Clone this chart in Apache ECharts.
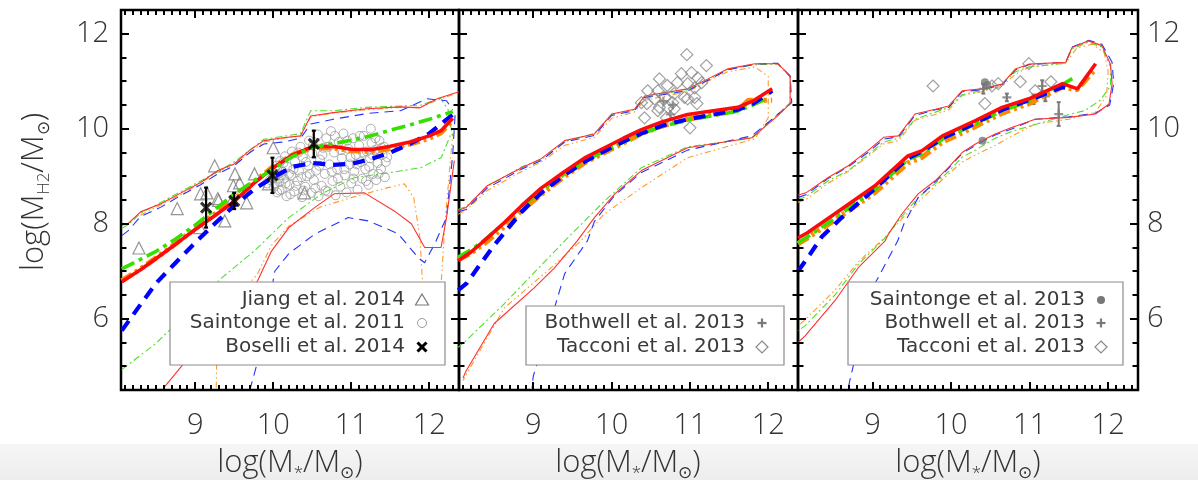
<!DOCTYPE html>
<html>
<head>
<meta charset="utf-8">
<script src="https://cdn.jsdelivr.net/npm/echarts@6/dist/echarts.min.js"></script>
<style>
  html, body { margin: 0; padding: 0; background: #ffffff; }
  #chart { width: 1198px; height: 480px; }
</style>
</head>
<body>
<div id="chart"></div>
<script>
// ---- axis ranges and tick labels ----
const X_MIN = 8.05, X_MAX = 12.38, Y_MIN = 4.5, Y_MAX = 12.5;
const xTickLabels = [9, 10, 11, 12];
const yTickLabels = [6, 8, 10, 12];

// ---- panel 1 : model medians (thick) ----
const p1RedMed = [[8.06,6.78],[8.3,7.03],[8.5,7.27],[8.75,7.57],[9.0,7.88],[9.25,8.17],[9.5,8.47],[9.75,8.85],[10.0,9.18],[10.25,9.45],[10.5,9.62],[10.75,9.63],[11.0,9.57],[11.25,9.56],[11.5,9.63],[11.75,9.72],[12.0,9.85],[12.15,9.96],[12.3,10.22]];
const p1OrangeMed = [[8.06,6.8],[8.3,7.05],[8.5,7.28],[8.75,7.58],[9.0,7.9],[9.25,8.2],[9.5,8.5],[9.75,8.88],[10.0,9.2],[10.25,9.45],[10.5,9.6],[10.75,9.6],[11.0,9.54],[11.25,9.52],[11.5,9.58],[11.75,9.68],[12.0,9.8],[12.15,9.92],[12.3,10.18]];
const p1GreenMed = [[8.06,7.05],[8.3,7.25],[8.5,7.42],[8.75,7.68],[9.0,7.97],[9.25,8.3],[9.5,8.62],[9.75,8.9],[10.0,9.15],[10.25,9.42],[10.5,9.6],[10.75,9.68],[11.0,9.76],[11.25,9.85],[11.5,9.97],[11.75,10.08],[12.0,10.2],[12.3,10.36]];
const p1BlueMed = [[8.06,5.75],[8.3,6.3],[8.5,6.75],[8.75,7.18],[9.0,7.6],[9.25,8.0],[9.5,8.38],[9.75,8.72],[10.0,8.98],[10.25,9.2],[10.5,9.28],[10.75,9.24],[11.0,9.26],[11.25,9.36],[11.5,9.5],[11.75,9.68],[12.0,9.9],[12.3,10.3]];

// ---- panel 1 : model envelopes (thin) ----
const p1RedHi = [[8.06,7.97],[8.14,8.0],[8.3,8.25],[8.56,8.42],[8.82,8.65],[9.07,8.87],[9.29,9.12],[9.5,9.26],[9.7,9.55],[9.88,9.75],[10.13,9.81],[10.35,9.85],[10.48,10.27],[10.77,10.34],[11.2,10.42],[11.63,10.46],[11.88,10.44],[12.1,10.63],[12.38,10.78]];
const p1RedLo = [[8.6,4.55],[9.0,5.35],[9.24,5.75],[9.5,6.2],[9.8,6.8],[9.98,7.43],[10.2,7.92],[10.53,8.34],[10.78,8.63],[11.17,8.65],[11.55,8.27],[11.77,8.0],[11.94,7.5],[12.15,7.5],[12.22,8.13],[12.32,9.33]];
const p1BlueHi = [[8.06,7.75],[8.14,7.85],[8.3,8.15],[8.56,8.35],[8.82,8.6],[9.07,8.82],[9.29,9.05],[9.5,9.22],[9.7,9.5],[9.88,9.68],[10.13,9.72],[10.35,9.8],[10.48,10.1],[10.77,10.2],[11.2,10.32],[11.63,10.38],[11.97,10.63],[12.22,10.59],[12.3,10.4]];
const p1BlueLo = [[9.7,4.5],[9.85,5.39],[10.02,7.0],[10.2,7.37],[10.53,7.78],[10.96,8.13],[11.22,8.06],[11.6,7.79],[11.86,7.28],[11.94,7.18],[12.07,7.58],[12.22,8.13],[12.3,9.47],[12.33,10.3]];
const p1GreenHi = [[8.06,7.9],[8.14,7.98],[8.3,8.22],[8.56,8.45],[8.82,8.68],[9.07,8.9],[9.29,9.1],[9.5,9.3],[9.7,9.55],[9.88,9.78],[10.13,9.84],[10.35,9.9],[10.48,10.38],[10.77,10.38],[11.2,10.45],[11.63,10.48],[11.9,10.5],[12.14,10.65],[12.24,10.4],[12.3,9.8]];
const p1GreenLo = [[8.06,4.93],[8.49,5.47],[8.92,6.16],[9.34,6.86],[9.76,7.43],[10.2,8.13],[10.62,8.63],[11.04,8.97],[11.47,9.07],[11.89,9.18],[12.15,9.39],[12.28,9.9]];
const p1OrangeHi = [[8.3,8.18],[8.56,8.4],[8.82,8.62],[9.07,8.85],[9.29,9.1],[9.5,9.25],[9.7,9.5],[9.88,9.72],[10.13,9.8],[10.35,9.84],[10.48,10.25],[10.77,10.33],[11.2,10.4],[11.63,10.45],[11.88,10.45],[12.1,10.6],[12.3,10.72]];
const p1OrangeLo = [[9.27,4.55],[9.28,5.6],[9.45,6.2],[9.6,6.55],[9.8,6.95],[9.98,7.55],[10.2,7.95],[10.6,8.35],[11.0,8.55],[11.47,8.76],[11.68,8.84],[11.8,8.55],[11.88,7.7],[11.92,6.55],[12.0,6.45],[12.15,6.7],[12.2,8.0],[12.3,9.9]];

// ---- panel 1 : observations ----
const jiang14 = [[8.28,7.49],[8.77,8.32],[9.15,8.65],[9.25,9.22],[9.51,9.05],[9.57,8.86],[9.66,8.44],[9.38,8.06],[9.94,8.84],[10.4,8.65],[9.06,7.92],[9.3,8.49],[9.76,9.05],[9.47,8.49],[10.0,9.6],[9.07,8.63],[9.29,8.53],[9.49,8.8]];
const saintonge11 = [[9.96,8.92],[9.98,9.12],[10.01,8.78],[10.02,8.98],[10.04,9.22],[10.05,8.66],[10.06,9.05],[10.08,8.88],[10.09,9.32],[10.11,8.72],[10.12,9.1],[10.14,8.95],[10.15,9.42],[10.17,8.58],[10.18,9.2],[10.21,8.82],[10.23,9.02],[10.24,9.52],[10.27,8.68],[10.28,9.3],[10.31,8.9],[10.33,9.12],[10.35,9.62],[10.37,8.56],[10.38,9.4],[10.41,8.78],[10.43,9.0],[10.45,9.22],[10.46,9.75],[10.49,8.65],[10.5,9.48],[10.52,8.92],[10.55,9.12],[10.57,9.88],[10.58,8.58],[10.6,9.35],[10.62,8.8],[10.64,9.6],[10.66,9.05],[10.68,9.8],[10.7,8.68],[10.72,9.25],[10.74,9.95],[10.76,8.9],[10.78,9.5],[10.8,8.6],[10.82,9.15],[10.84,9.72],[10.86,8.78],[10.88,9.38],[10.9,9.9],[10.92,9.02],[10.94,8.66],[10.96,9.58],[10.98,9.25],[11.0,8.85],[11.02,9.8],[11.04,9.1],[11.06,9.45],[11.08,8.72],[11.1,9.65],[11.12,9.3],[11.14,8.95],[11.16,9.85],[11.18,9.15],[11.2,9.52],[11.22,8.82],[11.24,9.38],[11.26,9.7],[11.28,9.05],[11.3,9.55],[11.32,8.92],[11.34,9.28],[11.36,9.75],[11.38,9.15],[11.4,9.45],[11.42,9.62],[11.44,9.3],[11.25,10.0],[10.0,9.0],[10.03,9.05],[10.07,8.95],[10.1,9.02],[9.92,8.85],
  [10.02,8.85],[10.05,9.15],[10.08,8.7],[10.13,9.28],[10.16,8.85],[10.2,9.05],[10.22,8.62],[10.26,9.15],[10.29,8.8],[10.32,9.5],[10.36,8.98],[10.39,8.7],[10.42,9.3],[10.47,9.05],[10.51,9.65],[10.54,8.75],[10.59,9.22],[10.63,9.45],[10.67,8.7],[10.71,9.62],[10.75,9.1],[10.79,9.85],[10.83,8.95],[10.87,9.55],[10.91,9.15],[10.95,9.75],[10.99,9.4],[11.03,8.95],[11.07,9.25],[11.11,9.85],[11.15,9.5],[11.19,8.9],[11.23,9.2],[11.27,9.45],[11.31,9.8],[11.35,9.05],[11.39,9.6],[11.43,8.98],[11.46,9.4]];
const boselli14 = [[9.14,8.34],[9.5,8.48],[9.99,9.02],[10.52,9.68]];
const boselli14Err = [0.42, 0.17, 0.37, 0.28];

// ---- panel 2 : model medians ----
const p2RedMed = [[8.04,7.22],[8.2,7.4],[8.37,7.64],[8.6,7.98],[8.85,8.38],[9.1,8.75],[9.4,9.1],[9.65,9.38],[9.91,9.6],[10.15,9.8],[10.38,9.98],[10.65,10.15],[10.97,10.3],[11.3,10.38],[11.61,10.45],[11.8,10.58],[12.05,10.84]];
const p2OrangeMed = [[8.04,7.25],[8.2,7.38],[8.37,7.58],[8.6,7.9],[8.85,8.28],[9.1,8.62],[9.4,9.0],[9.65,9.28],[9.91,9.5],[10.15,9.7],[10.38,9.9],[10.65,10.06],[10.97,10.2],[11.3,10.3],[11.61,10.38],[11.75,10.6],[12.05,10.6]];
const p2GreenMed = [[8.04,7.3],[8.2,7.45],[8.37,7.65],[8.6,7.97],[8.85,8.35],[9.1,8.7],[9.4,9.05],[9.65,9.32],[9.91,9.53],[10.15,9.72],[10.38,9.9],[10.65,10.05],[10.97,10.18],[11.3,10.28],[11.61,10.37],[11.8,10.5],[12.0,10.65]];
const p2BlueMed = [[8.04,6.6],[8.15,6.75],[8.3,7.1],[8.5,7.55],[8.7,7.95],[8.85,8.25],[9.1,8.65],[9.4,9.03],[9.65,9.3],[9.91,9.53],[10.15,9.73],[10.38,9.9],[10.65,10.07],[10.97,10.2],[11.3,10.3],[11.61,10.4],[11.8,10.52],[12.05,10.8]];

// ---- panel 2 : model envelopes (upper edge, round the tip, lower edge) ----
const p2RedEnv = [[8.04,8.28],[8.14,8.34],[8.41,8.8],[8.85,9.18],[9.1,9.37],[9.4,9.75],[9.78,9.89],[10.0,10.31],[10.29,10.41],[10.42,10.69],[10.97,10.84],[11.23,11.05],[11.48,11.26],[11.83,11.37],[12.12,11.37],[12.28,11.12],[12.28,10.53],[12.12,10.27],[11.79,9.81],[10.97,9.6],[10.38,9.12],[10.04,8.63],[9.78,8.13],[9.56,7.64],[9.27,7.07],[9.01,6.65],[8.5,5.9],[8.14,4.9],[8.1,4.75]];
const p2BlueEnv = [[8.04,8.25],[8.14,8.3],[8.41,8.75],[8.85,9.15],[9.1,9.33],[9.4,9.72],[9.78,9.86],[10.0,10.28],[10.29,10.38],[10.42,10.66],[10.97,10.8],[11.23,11.02],[11.48,11.24],[11.83,11.36],[12.12,11.38],[12.28,11.1],[12.3,10.55],[12.12,10.3],[11.79,9.85],[10.97,9.55],[10.38,9.08],[10.04,8.6],[9.78,8.05],[9.69,7.64],[9.4,6.95],[9.27,6.23],[9.0,4.8],[8.98,4.55]];
const p2GreenEnv = [[8.04,8.3],[8.14,8.36],[8.41,8.78],[8.85,9.2],[9.1,9.35],[9.4,9.73],[9.78,9.9],[10.0,10.3],[10.29,10.4],[10.42,10.66],[10.97,10.82],[11.23,11.03],[11.48,11.25],[11.83,11.35],[12.12,11.36],[12.28,11.1],[12.28,10.55],[12.12,10.3],[11.79,9.8],[10.97,9.62],[10.38,9.18],[9.91,8.48],[9.4,7.64],[8.63,6.32],[8.14,5.54],[8.04,5.4]];
const p2OrangeEnv = [[8.04,8.2],[8.14,8.28],[8.41,8.7],[8.85,9.1],[9.1,9.3],[9.4,9.65],[9.78,9.82],[10.0,10.22],[10.29,10.35],[10.42,10.6],[10.97,10.78],[11.23,11.0],[11.48,11.2],[11.83,11.3],[12.0,11.1],[12.0,10.23],[11.83,9.79],[10.97,9.39],[10.38,8.76],[9.9,8.2],[9.61,7.64],[9.14,6.95],[8.63,6.23],[8.14,4.82],[8.1,4.7]];

// ---- panel 2 : observations ----
const tacconiP2 = [[10.96,11.56],[11.21,11.33],[10.61,11.05],[10.89,11.16],[11.02,11.18],[10.71,10.91],[10.46,10.8],[10.59,10.8],[10.84,10.97],[10.97,10.95],[11.1,11.07],[11.15,10.97],[11.06,10.86],[10.55,10.63],[10.68,10.66],[10.8,10.74],[10.93,10.66],[11.06,10.66],[10.38,10.55],[10.45,10.53],[10.61,10.45],[10.78,10.55],[10.97,10.63],[11.09,10.53],[10.59,10.38],[10.72,10.45],[10.42,10.23],[10.7,10.23],[11.0,10.02],[10.8,10.42]];
const bothwellP2 = [[10.66,10.58],[10.78,10.5],[10.75,10.3]];

// ---- panel 3 : model medians ----
const p3RedMed = [[8.05,7.7],[8.17,7.81],[8.52,8.21],[9.03,8.8],[9.45,9.43],[9.63,9.54],[9.89,9.85],[10.31,10.17],[10.65,10.45],[10.99,10.63],[11.42,10.95],[11.61,10.84],[11.84,11.37]];
const p3OrangeMed = [[8.05,7.58],[8.17,7.7],[8.52,8.08],[9.03,8.66],[9.45,9.28],[9.63,9.4],[9.89,9.72],[10.31,10.05],[10.65,10.33],[10.99,10.53],[11.42,10.88],[11.6,10.82],[11.84,11.26]];
const p3GreenMed = [[8.05,7.6],[8.17,7.72],[8.52,8.12],[9.03,8.72],[9.45,9.35],[9.63,9.47],[9.89,9.78],[10.31,10.1],[10.65,10.38],[10.99,10.58],[11.3,10.82],[11.56,11.07]];
const p3BlueMed = [[8.05,7.0],[8.2,7.35],[8.35,7.72],[8.6,8.12],[9.03,8.74],[9.45,9.38],[9.63,9.52],[9.89,9.8],[10.31,10.12],[10.65,10.4],[10.99,10.6],[11.42,10.88],[11.55,10.82]];

// ---- panel 3 : model envelopes ----
const p3RedEnv = [[8.05,8.6],[8.16,8.66],[8.43,8.97],[8.69,9.22],[8.94,9.54],[9.14,9.82],[9.33,9.85],[9.54,10.31],[9.8,10.41],[9.97,10.48],[10.14,10.8],[10.39,10.84],[10.65,10.94],[10.82,11.26],[10.99,11.36],[11.46,11.4],[11.54,11.71],[11.75,11.85],[11.92,11.75],[12.03,11.36],[12.05,10.94],[12.01,10.52],[11.84,10.31],[11.5,10.24],[11.07,10.2],[10.78,10.03],[10.56,9.89],[10.31,9.68],[10.14,9.5],[9.97,9.19],[9.8,8.91],[9.58,8.63],[9.37,8.2],[9.2,7.78],[9.16,7.64],[8.82,7.08],[8.52,6.38],[8.14,5.64],[8.05,5.5]];
const p3BlueEnv = [[8.05,8.55],[8.16,8.62],[8.43,8.95],[8.69,9.2],[8.94,9.5],[9.14,9.78],[9.33,9.83],[9.54,10.28],[9.8,10.4],[9.97,10.45],[10.14,10.78],[10.39,10.82],[10.65,10.93],[10.82,11.24],[10.99,11.35],[11.46,11.4],[11.54,11.72],[11.75,11.86],[11.92,11.78],[12.05,11.4],[12.07,10.95],[12.02,10.5],[11.84,10.33],[11.5,10.25],[11.07,10.2],[10.78,10.0],[10.56,9.87],[10.31,9.65],[10.14,9.48],[9.97,9.17],[9.8,8.88],[9.58,8.55],[9.4,8.0],[9.32,7.64],[9.03,6.74],[8.86,5.75],[8.71,4.7],[8.69,4.55]];
const p3GreenEnv = [[8.05,8.5],[8.16,8.58],[8.43,8.9],[8.69,9.12],[8.94,9.45],[9.14,9.72],[9.33,9.8],[9.54,10.2],[9.8,10.35],[9.97,10.45],[10.14,10.72],[10.39,10.8],[10.65,10.95],[10.82,11.2],[10.99,11.3],[11.46,11.38],[11.54,11.68],[11.75,11.82],[11.92,11.72],[12.03,11.3],[12.03,10.9],[11.9,10.6],[11.7,10.38],[11.5,10.3],[11.2,10.15],[10.78,9.95],[10.56,9.8],[10.31,9.55],[10.14,9.4],[9.97,9.1],[9.8,8.85],[9.58,8.55],[9.37,8.15],[9.16,7.7],[8.82,7.15],[8.52,6.5],[8.14,5.85],[8.05,5.75]];
const p3OrangeEnv = [[8.05,8.45],[8.16,8.52],[8.43,8.85],[8.69,9.1],[8.94,9.42],[9.14,9.68],[9.33,9.75],[9.54,10.18],[9.8,10.3],[9.97,10.4],[10.14,10.7],[10.39,10.78],[10.65,10.9],[10.82,11.15],[10.99,11.3],[11.46,11.38],[11.6,11.7],[11.8,11.78],[11.95,11.6],[12.0,11.2],[11.98,10.7],[11.84,10.35],[11.5,10.2],[11.07,10.1],[10.78,9.85],[10.56,9.65],[10.31,9.45],[10.14,9.3],[9.97,9.05],[9.8,8.8],[9.58,8.45],[9.37,8.1],[9.16,7.72],[8.82,7.2],[8.52,6.6],[8.14,5.98],[8.05,5.85]];

// ---- panel 3 : observations ----
const saintonge13 = [[10.43,10.98],[10.46,10.92],[10.4,9.75]];
const bothwellP3 = [[10.41,10.84],[10.71,10.66],[11.05,10.62],[11.16,10.9],[11.2,10.68],[11.37,10.31]];
const bothwellP3Err = [0.1, 0.08, 0.1, 0.12, 0.1, 0.25];
const tacconiP3 = [[9.77,10.9],[10.43,10.53],[10.6,10.95],[10.88,10.99],[10.99,11.37],[11.07,10.8],[11.27,10.99],[10.52,10.9]];

// ---- styling ----
const FONT = '"Open Sans", "DejaVu Sans", sans-serif';
const LEGEND_FONT = '"DejaVu Sans", sans-serif';
const TXT = '#333333';
const PANELS = [
  { left: 121, top: 10, width: 338, height: 380 },
  { left: 459, top: 10, width: 339, height: 380 },
  { left: 798, top: 10, width: 340, height: 380 }
];
const GRIDS = PANELS.map(p => Object.assign({ show: true, borderColor: '#000000', borderWidth: 2.5, backgroundColor: 'transparent' }, p));
const LS = {
  redThick:    { color: '#ff0a0a', width: 3.6, type: 'solid' },
  orangeThick: { color: '#ff8a00', width: 5.2, type: [12, 4, 3, 4, 3, 4] },
  greenThick:  { color: '#35e000', width: 3.6, type: [14, 5, 4, 5] },
  blueThick:   { color: '#0000ff', width: 4.2, type: [12, 8] },
  redThin:     { color: '#ff3030', width: 1.1, type: 'solid' },
  orangeThin:  { color: '#ff9a2a', width: 1.1, type: [6, 3, 1.5, 3, 1.5, 3] },
  greenThin:   { color: '#4fe02a', width: 1.1, type: [7, 3, 2, 3] },
  blueThin:    { color: '#2233ff', width: 1.1, type: [9, 6] }
};

// minor tick positions (every 0.1 in mass, every 0.5 in gas mass)
const minorX = [];
for (let v = 81; v <= 123; v++) if (v % 10 !== 0) minorX.push(v / 10);
const minorY = [];
for (let v = 10; v <= 24; v++) if (v % 4 !== 0) minorY.push(v / 2);

const labelStyle = { color: TXT, fontFamily: FONT, fontSize: 29, fontWeight: 300 };
const xAxes = [], yAxes = [];
for (let g = 0; g < 3; g++) {
  xAxes.push({
    type: 'value', gridIndex: g, min: X_MIN, max: X_MAX,
    axisLine: { show: false }, axisTick: { show: false }, splitLine: { show: false },
    axisLabel: Object.assign({ customValues: xTickLabels, margin: 21 }, labelStyle)
  });
  yAxes.push({
    type: 'value', gridIndex: g, position: 'left', min: Y_MIN, max: Y_MAX,
    axisLine: { show: false }, axisTick: { show: false }, splitLine: { show: false },
    axisLabel: Object.assign({ show: g === 0, customValues: yTickLabels, margin: 12 }, labelStyle)
  });
  yAxes.push({
    type: 'value', gridIndex: g, position: 'right', min: Y_MIN, max: Y_MAX,
    axisLine: { show: false }, axisTick: { show: false }, splitLine: { show: false },
    axisLabel: Object.assign({ show: g === 2, customValues: yTickLabels, margin: 9 }, labelStyle)
  });
}

function curve(g, data, st, z) {
  return { type: 'line', xAxisIndex: g, yAxisIndex: 2 * g, data: data, symbol: 'none', showSymbol: false,
           lineStyle: st, z: z, silent: true, clip: true, animation: false };
}
function points(g, data, symbol, size, fill, stroke, bw, z) {
  return { type: 'scatter', xAxisIndex: g, yAxisIndex: 2 * g, data: data, symbol: symbol, symbolSize: size,
           itemStyle: { color: fill, borderColor: stroke, borderWidth: bw }, z: z, silent: true, animation: false };
}
function errBars(g, data, errs, color, w, z) {
  return {
    type: 'custom', xAxisIndex: g, yAxisIndex: 2 * g, z: z, silent: true, animation: false, clip: true,
    data: data.map((p, i) => [p[0], p[1], errs[i]]),
    renderItem: function (params, api) {
      const x = api.value(0), y = api.value(1), e = api.value(2);
      const lo = api.coord([x, y - e]), hi = api.coord([x, y + e]);
      const st = { stroke: color, lineWidth: w };
      return { type: 'group', children: [
        { type: 'line', shape: { x1: lo[0], y1: lo[1], x2: hi[0], y2: hi[1] }, style: st },
        { type: 'line', shape: { x1: lo[0] - 2, y1: lo[1], x2: lo[0] + 2, y2: lo[1] }, style: st },
        { type: 'line', shape: { x1: hi[0] - 2, y1: hi[1], x2: hi[0] + 2, y2: hi[1] }, style: st }
      ] };
    }
  };
}

const CROSS = 'path://M0,0L10,10M10,0L0,10';
const PLUS = 'path://M5,0L5,10M0,5L10,5';
const HOLLOW = 'rgba(0,0,0,0)';

const series = [
  // panel 1
  curve(0, p1OrangeHi, LS.orangeThin, 2), curve(0, p1OrangeLo, LS.orangeThin, 2),
  curve(0, p1GreenHi, LS.greenThin, 2), curve(0, p1GreenLo, LS.greenThin, 2),
  curve(0, p1BlueHi, LS.blueThin, 2), curve(0, p1BlueLo, LS.blueThin, 2),
  curve(0, p1RedHi, LS.redThin, 2), curve(0, p1RedLo, LS.redThin, 2),
  points(0, saintonge11, 'circle', 9, HOLLOW, '#9c9c9c', 1, 3),
  points(0, jiang14, 'triangle', 12, HOLLOW, '#7a7a7a', 1.2, 3),
  curve(0, p1OrangeMed, LS.orangeThick, 4), curve(0, p1BlueMed, LS.blueThick, 5),
  curve(0, p1RedMed, LS.redThick, 6), curve(0, p1GreenMed, LS.greenThick, 7),
  errBars(0, boselli14, boselli14Err, '#000', 2.2, 8),
  points(0, boselli14, CROSS, 10, '#000', '#000', 3.2, 9),
  // panel 2
  curve(1, p2OrangeEnv, LS.orangeThin, 2), curve(1, p2GreenEnv, LS.greenThin, 2),
  curve(1, p2BlueEnv, LS.blueThin, 2), curve(1, p2RedEnv, LS.redThin, 2),
  points(1, tacconiP2, 'diamond', 12, HOLLOW, '#8a8a8a', 1.2, 3),
  points(1, bothwellP2, PLUS, 9, '#7a7a7a', '#7a7a7a', 2.2, 3),
  curve(1, p2OrangeMed, LS.orangeThick, 4), curve(1, p2GreenMed, LS.greenThick, 5),
  curve(1, p2BlueMed, LS.blueThick, 5), curve(1, p2RedMed, LS.redThick, 6),
  // panel 3
  curve(2, p3OrangeEnv, LS.orangeThin, 2), curve(2, p3GreenEnv, LS.greenThin, 2),
  curve(2, p3BlueEnv, LS.blueThin, 2), curve(2, p3RedEnv, LS.redThin, 2),
  points(2, tacconiP3, 'diamond', 12, HOLLOW, '#8a8a8a', 1.2, 3),
  errBars(2, bothwellP3, bothwellP3Err, '#7a7a7a', 2, 3),
  points(2, bothwellP3, PLUS, 9, '#7a7a7a', '#7a7a7a', 2.2, 3),
  points(2, saintonge13, 'circle', 8, '#777777', '#777777', 0, 3),
  curve(2, p3OrangeMed, LS.orangeThick, 4), curve(2, p3GreenMed, LS.greenThick, 5),
  curve(2, p3BlueMed, LS.blueThick, 5), curve(2, p3RedMed, LS.redThick, 6)
];

// ---- frame ticks: short inward bars on all four sides of each panel ----
const tickMarks = [];
PANELS.forEach(function (p) {
  const px = v => p.left + (v - X_MIN) / (X_MAX - X_MIN) * p.width;
  const py = v => p.top + (Y_MAX - v) / (Y_MAX - Y_MIN) * p.height;
  const bottom = p.top + p.height, top = p.top, left = p.left, right = p.left + p.width;
  const W = 2;
  function bar(x, y, w, h) {
    tickMarks.push({ type: 'rect', z: 30, silent: true, shape: { x: x, y: y, width: w, height: h }, style: { fill: '#000000' } });
  }
  function xt(v, len) {
    const x = Math.round(px(v)) - W / 2;
    bar(x, bottom - len, W, len);
    bar(x, top, W, len);
  }
  function yt(v, len) {
    const y = Math.round(py(v)) - W / 2;
    bar(left, y, len, W);
    bar(right - len, y, len, W);
  }
  xTickLabels.forEach(v => xt(v, 8));
  minorX.forEach(v => xt(v, 5));
  yTickLabels.forEach(v => yt(v, 8));
  minorY.forEach(v => yt(v, 5.5));
});

// ---- legends, axis titles and the pale strip along the bottom ----
const legendFont = '20px ' + LEGEND_FONT;
function legendText(x, y, s) {
  return { type: 'text', x: x, y: y, z: 20,
           style: { text: s, fill: '#3a3a3a', font: legendFont, align: 'right', verticalAlign: 'middle', textAlign: 'right', textVerticalAlign: 'middle' } };
}
function box(x1, y1, x2, y2) {
  return { type: 'rect', z: 19, shape: { x: x1, y: y1, width: x2 - x1, height: y2 - y1 },
           style: { fill: '#ffffff', stroke: '#8c8c8c', lineWidth: 1.2 } };
}
function triangleMark(cx, cy) {
  return { type: 'polygon', z: 20, shape: { points: [[cx, cy - 6], [cx + 6.5, cy + 5], [cx - 6.5, cy + 5]] },
           style: { fill: 'none', stroke: '#7a7a7a', lineWidth: 1.2 } };
}
function circleMark(cx, cy, filled) {
  return { type: 'circle', z: 20, shape: { cx: cx, cy: cy, r: filled ? 4 : 4.5 },
           style: filled ? { fill: '#777777' } : { fill: 'none', stroke: '#9a9a9a', lineWidth: 1 } };
}
function diamondMark(cx, cy) {
  return { type: 'polygon', z: 20, shape: { points: [[cx, cy - 6], [cx + 6, cy], [cx, cy + 6], [cx - 6, cy]] },
           style: { fill: 'none', stroke: '#8a8a8a', lineWidth: 1.2 } };
}
function crossMark(cx, cy, color, w, plus) {
  const s = 4.5;
  const a = plus ? [[cx - s, cy], [cx + s, cy]] : [[cx - s, cy - s], [cx + s, cy + s]];
  const b = plus ? [[cx, cy - s], [cx, cy + s]] : [[cx + s, cy - s], [cx - s, cy + s]];
  return [
    { type: 'polyline', z: 20, shape: { points: a }, style: { stroke: color, lineWidth: w, fill: 'none' } },
    { type: 'polyline', z: 20, shape: { points: b }, style: { stroke: color, lineWidth: w, fill: 'none' } }
  ];
}

const titleRich = {
  a: { fontFamily: FONT, fontWeight: 300, fontSize: 31, fill: TXT, lineHeight: 38 },
  s: { fontFamily: FONT, fontWeight: 300, fontSize: 17, fill: TXT, lineHeight: 38, verticalAlign: 'bottom' }
};
function xTitle(cx) {
  return { type: 'text', x: cx, y: 463, z: 20,
           style: { text: '{a|log(M}{s|*}{a|/M}{s|⊙}{a|)}', rich: titleRich, align: 'center', verticalAlign: 'middle',
                    textAlign: 'center', textVerticalAlign: 'middle' } };
}

const graphics = [
  { type: 'rect', z: 0, shape: { x: 0, y: 444, width: 1198, height: 36 },
    style: { fill: new echarts.graphic.LinearGradient(0, 0, 0, 1, [{ offset: 0, color: '#f6f6f6' }, { offset: 1, color: '#ededed' }]) } },
  { type: 'text', x: 34, y: 192, rotation: Math.PI / 2, z: 20,
    style: { text: '{a|log(M}{s|H2}{a|/M}{s|⊙}{a|)}', rich: titleRich, align: 'center', verticalAlign: 'middle',
             textAlign: 'center', textVerticalAlign: 'middle' } },
  xTitle(290), xTitle(628), xTitle(968),
  // panel 1 legend
  box(170, 282, 445, 365),
  legendText(405, 300, 'Jiang et al. 2014'), triangleMark(422, 300),
  legendText(405, 323, 'Saintonge et al. 2011'), circleMark(422, 323, false),
  legendText(405, 347, 'Boselli et al. 2014'), ...crossMark(422, 347, '#000', 3, false),
  // panel 2 legend
  box(526, 306, 784, 365),
  legendText(745, 323, 'Bothwell et al. 2013'), ...crossMark(762, 323, '#7a7a7a', 2.2, true),
  legendText(745, 347, 'Tacconi et al. 2013'), diamondMark(762, 347),
  // panel 3 legend
  box(848, 282, 1123, 365),
  legendText(1085, 300, 'Saintonge et al. 2013'), circleMark(1101, 300, true),
  legendText(1085, 323, 'Bothwell et al. 2013'), ...crossMark(1101, 323, '#7a7a7a', 2.2, true),
  legendText(1085, 347, 'Tacconi et al. 2013'), diamondMark(1101, 347)
].concat(tickMarks);

const chart = echarts.init(document.getElementById('chart'), null, { renderer: 'canvas' });
chart.setOption({
  backgroundColor: '#ffffff',
  animation: false,
  grid: GRIDS,
  xAxis: xAxes,
  yAxis: yAxes,
  series: series,
  graphic: { elements: graphics }
});
</script>
</body>
</html>
